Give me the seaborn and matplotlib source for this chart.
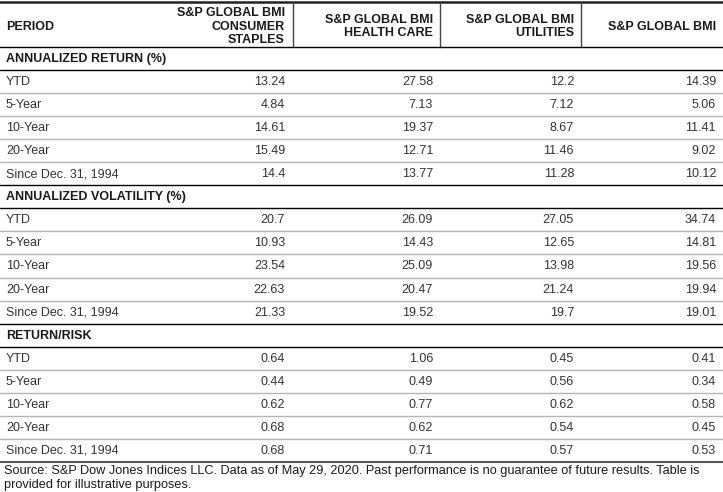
import matplotlib
matplotlib.use("Agg")
import matplotlib.pyplot as plt
import seaborn as sns

# table content
columns = ["S&P GLOBAL BMI\nCONSUMER\nSTAPLES", "S&P GLOBAL BMI\nHEALTH CARE",
           "S&P GLOBAL BMI\nUTILITIES", "S&P GLOBAL BMI"]
sections = ["ANNUALIZED RETURN (%)", "ANNUALIZED VOLATILITY (%)", "RETURN/RISK"]
periods = ["YTD", "5-Year", "10-Year", "20-Year", "Since Dec. 31, 1994"]

annualized_return = [
    ["13.24", "27.58", "12.2", "14.39"],
    ["4.84", "7.13", "7.12", "5.06"],
    ["14.61", "19.37", "8.67", "11.41"],
    ["15.49", "12.71", "11.46", "9.02"],
    ["14.4", "13.77", "11.28", "10.12"],
]
annualized_volatility = [
    ["20.7", "26.09", "27.05", "34.74"],
    ["10.93", "14.43", "12.65", "14.81"],
    ["23.54", "25.09", "13.98", "19.56"],
    ["22.63", "20.47", "21.24", "19.94"],
    ["21.33", "19.52", "19.7", "19.01"],
]
return_risk = [
    ["0.64", "1.06", "0.45", "0.41"],
    ["0.44", "0.49", "0.56", "0.34"],
    ["0.62", "0.77", "0.62", "0.58"],
    ["0.68", "0.62", "0.54", "0.45"],
    ["0.68", "0.71", "0.57", "0.53"],
]
section_values = [annualized_return, annualized_volatility, return_risk]

source_note = ("Source: S&P Dow Jones Indices LLC. Data as of May 29, 2020. Past performance is no guarantee of future results. Table is\n"
               "provided for illustrative purposes.")

sns.set_theme(style="white")
plt.rcParams["font.family"] = ["Liberation Sans", "DejaVu Sans"]

W, H = 723, 492
fig = plt.figure(figsize=(W / 100, H / 100), dpi=100)
ax = fig.add_axes([0, 0, 1, 1])
ax.set_xlim(0, W)
ax.set_ylim(H, 0)
ax.axis("off")

col_right = [285, 433, 574, 716]   # right edge of text in each column
col_sep = [293, 440, 581]
head_top, head_bot = 2, 47
row_h = 23.05
fs = 9
txt = "#1a1a1a"

# header
ax.plot([0, W], [head_top, head_top], color="#222222", lw=1.8)
ax.text(6, (head_top + head_bot) / 2 + 2, "PERIOD", fontsize=fs, fontweight="bold",
        ha="left", va="center", color=txt)
for x, c in zip(col_right, columns):
    ax.text(x, (head_top + head_bot) / 2 + 2, c, fontsize=fs, fontweight="bold",
            ha="right", va="center", multialignment="right", color=txt, linespacing=1.2)
for x in col_sep:
    ax.plot([x, x], [head_top, head_bot], color="#444444", lw=1)

# body
y = head_bot
for name, vals in zip(sections, section_values):
    ax.plot([0, W], [y, y], color="black", lw=1)
    ax.text(6, y + row_h / 2 + 0.5, name, fontsize=fs, fontweight="bold",
            ha="left", va="center", color=txt)
    y += row_h
    ax.plot([0, W], [y, y], color="black", lw=1)
    for i, (p, row) in enumerate(zip(periods, vals)):
        if i > 0:
            ax.plot([0, W], [y, y], color="#b5b5b5", lw=1)
        ax.text(6, y + row_h / 2 + 0.5, p, fontsize=fs, ha="left", va="center", color="#333333")
        for x, v in zip(col_right, row):
            ax.text(x, y + row_h / 2 + 0.5, v, fontsize=fs, ha="right", va="center", color="#333333")
        y += row_h

ax.plot([0, W], [y, y], color="#555555", lw=1.5)
ax.text(4, y + 3, source_note, fontsize=9.2, ha="left", va="top", color=txt, linespacing=1.2)

fig.savefig("out.png", dpi=100)
